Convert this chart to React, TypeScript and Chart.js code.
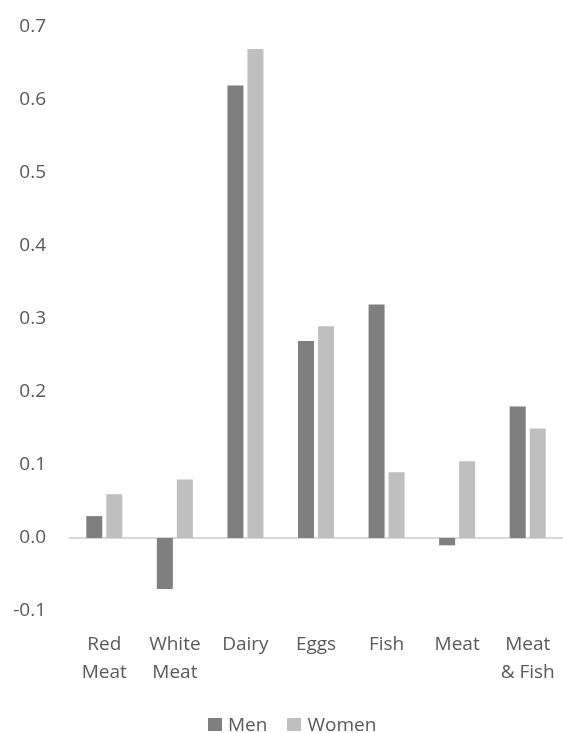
import React, { useEffect, useRef } from "react";
import { Chart, registerables } from "chart.js";

Chart.register(...registerables);

const categories: string[][] = [
  ["Red", "Meat"],
  ["White", "Meat"],
  ["Dairy"],
  ["Eggs"],
  ["Fish"],
  ["Meat"],
  ["Meat", "& Fish"],
];
const menValues = [0.03, -0.07, 0.62, 0.27, 0.32, -0.01, 0.18];
const womenValues = [0.06, 0.08, 0.67, 0.29, 0.09, 0.105, 0.15];
const seriesNames = ["Men", "Women"];
const seriesColors = ["#7f7f7f", "#bfbfbf"];
const yMin = -0.1;
const yMax = 0.7;
const yStep = 0.1;

const FONT_FAMILY = "'Open Sans', 'Segoe UI', sans-serif";
const TEXT_COLOR = "#595959";

export default function App() {
  const canvasRef = useRef<HTMLCanvasElement | null>(null);

  useEffect(() => {
    if (!canvasRef.current) return;
    const chart = new Chart(canvasRef.current, {
      type: "bar",
      data: {
        labels: categories,
        datasets: [menValues, womenValues].map((vals, i) => ({
          label: seriesNames[i],
          data: vals,
          backgroundColor: seriesColors[i],
          categoryPercentage: 0.567,
          barPercentage: 0.8,
        })),
      },
      options: {
        animation: false,
        responsive: true,
        maintainAspectRatio: false,
        layout: { padding: { left: 0, right: 0, top: 27, bottom: 0 } },
        plugins: {
          tooltip: { enabled: false },
          legend: { display: false },
        },
        scales: {
          x: {
            grid: { display: false, drawTicks: false },
            border: { display: false },
            ticks: {
              font: { family: FONT_FAMILY, size: 19, lineHeight: 1.47 },
              color: TEXT_COLOR,
              padding: 20,
              maxRotation: 0,
              autoSkip: false,
            },
            afterFit: (scale: any) => {
              scale.paddingLeft = 0;
              scale.paddingRight = 0;
              scale.height = 122;
            },
          },
          y: {
            min: yMin,
            max: yMax,
            grid: {
              drawTicks: false,
              color: (ctx: any) =>
                ctx.tick && Math.abs(ctx.tick.value) < 1e-9 ? "#d9d9d9" : "rgba(0,0,0,0)",
              lineWidth: 2,
            },
            border: { display: false },
            ticks: {
              stepSize: yStep,
              font: { family: FONT_FAMILY, size: 19, lineHeight: 1.2 },
              color: TEXT_COLOR,
              padding: 23,
              callback: (v: any) => {
                const n = Number(v);
                return (Math.abs(n) < 1e-9 ? 0 : n).toFixed(1);
              },
            },
            afterFit: (scale: any) => {
              scale.width = 69;
              scale.paddingTop = 0;
              scale.paddingBottom = 0;
            },
          },
        },
      },
    });
    return () => chart.destroy();
  }, []);

  return (
    <div style={{ position: "fixed", left: 0, top: 0, width: 563, height: 733, background: "#fff" }}>
      <canvas ref={canvasRef} />
      <div
        style={{
          position: "absolute",
          left: 208,
          top: 711,
          height: 26,
          display: "flex",
          alignItems: "center",
          fontFamily: FONT_FAMILY,
          fontSize: 19,
          color: TEXT_COLOR,
          lineHeight: "26px",
          whiteSpace: "nowrap",
        }}
      >
        {seriesNames.map((name, i) => (
          <div key={name} style={{ display: "flex", alignItems: "center", marginRight: i === 0 ? 20 : 0 }}>
            <span
              style={{
                display: "inline-block",
                width: 14,
                height: 13,
                background: seriesColors[i],
                marginRight: 6,
              }}
            />
            <span>{name}</span>
          </div>
        ))}
      </div>
    </div>
  );
}
